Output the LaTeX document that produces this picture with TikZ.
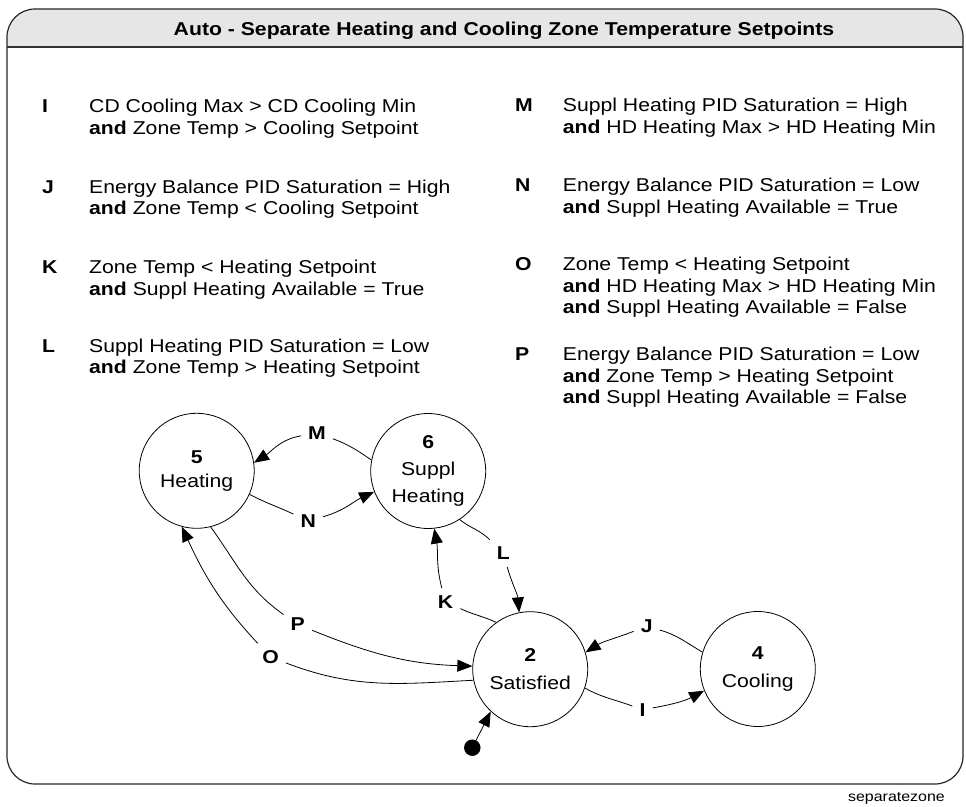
\documentclass[tikz,border=0pt]{standalone}
\usepackage{fontspec}
\setmainfont{Liberation Sans}[FakeStretch=1.14]
\usetikzlibrary{arrows.meta}

\definecolor{headgray}{HTML}{E6E6E6}
\definecolor{rulegray}{HTML}{333333}
\newcommand\bodysize{\fontsize{18.6}{21.5}\selectfont}

\tikzset{
  frameline/.style={draw=black!85, line width=1.2pt, rounded corners=28pt},
  state/.style={circle, draw, line width=0.8pt, minimum size=115pt, inner sep=0pt,
                align=center},
  tlabel/.style={font=\bodysize\bfseries, inner sep=7pt},
  letter/.style={anchor=base west, inner sep=0pt, font=\bodysize\bfseries},
  cond/.style={anchor=base west, inner sep=0pt, font=\bodysize},
  conn/.style={line width=0.8pt},
  arr/.style={-{Triangle[length=15pt,width=12pt]}}
}

\begin{document}
\begin{tikzpicture}[x=1pt,y=1pt]
\useasboundingbox (0,0) rectangle (966,-806);
\fill[white] (0,0) rectangle (966,-806);

% frame with grey title band
\begin{scope}
  \clip[rounded corners=28pt] (7,-9) rectangle (963,-784);
  \fill[headgray] (7,-9) rectangle (963,-47);
\end{scope}
\draw[frameline] (7,-9) rectangle (963,-784);
\draw[rulegray, line width=2.4pt] (7,-47) -- (963,-47);

\node[anchor=base, inner sep=0pt, font=\bodysize\bfseries] (title) at (504,-35.7)
  {Auto - Separate Heating and Cooling Zone Temperature Setpoints};

% transition conditions, left column
\node[letter] (kI) at (42,-112.5) {I};
\node[cond] (cI) at (89,-112.5) {\begin{tabular}[t]{@{}l@{}}CD Cooling Max > CD Cooling Min\\\textbf{and} Zone Temp > Cooling Setpoint\end{tabular}};
\node[letter] (kJ) at (42,-193) {J};
\node[cond] (cJ) at (89,-193) {\begin{tabular}[t]{@{}l@{}}Energy Balance PID Saturation = High\\\textbf{and} Zone Temp < Cooling Setpoint\end{tabular}};
\node[letter] (kK) at (42,-273.5) {K};
\node[cond] (cK) at (89,-273.5) {\begin{tabular}[t]{@{}l@{}}Zone Temp < Heating Setpoint\\\textbf{and} Suppl Heating Available = True\end{tabular}};
\node[letter] (kL) at (42,-352) {L};
\node[cond] (cL) at (89,-352) {\begin{tabular}[t]{@{}l@{}}Suppl Heating PID Saturation = Low\\\textbf{and} Zone Temp > Heating Setpoint\end{tabular}};

% transition conditions, right column
\node[letter] (kM) at (515,-111.7) {M};
\node[cond] (cM) at (562.7,-111.7) {\begin{tabular}[t]{@{}l@{}}Suppl Heating PID Saturation = High\\\textbf{and} HD Heating Max > HD Heating Min\end{tabular}};
\node[letter] (kN) at (515,-191.7) {N};
\node[cond] (cN) at (562.7,-191.7) {\begin{tabular}[t]{@{}l@{}}Energy Balance PID Saturation = Low\\\textbf{and} Suppl Heating Available = True\end{tabular}};
\node[letter] (kO) at (515,-270.7) {O};
\node[cond] (cO) at (562.7,-270.7) {\begin{tabular}[t]{@{}l@{}}Zone Temp < Heating Setpoint\\\textbf{and} HD Heating Max > HD Heating Min\\\textbf{and} Suppl Heating Available = False\end{tabular}};
\node[letter] (kP) at (515,-360.5) {P};
\node[cond] (cP) at (562.7,-360.5) {\begin{tabular}[t]{@{}l@{}}Energy Balance PID Saturation = Low\\\textbf{and} Zone Temp > Heating Setpoint\\\textbf{and} Suppl Heating Available = False\end{tabular}};

% states
\node[state, font=\fontsize{18.6}{24.5}\selectfont] (h5) at (196.7,-470.8) {\textbf{5}\\Heating};
\node[state, font=\fontsize{18.6}{27}\selectfont] (s6) at (428.2,-471) {\textbf{6}\\Suppl\\Heating};
\node[state, font=\fontsize{18.6}{28}\selectfont] (sat) at (530.2,-669.2) {\textbf{2}\\Satisfied};
\node[state, font=\fontsize{18.6}{28}\selectfont] (cool) at (757.8,-669) {\textbf{4}\\Cooling};

% transition labels
\node[tlabel] (M) at (317,-433) {M};
\node[tlabel] (N) at (308.3,-521) {N};
\node[tlabel] (L) at (503.3,-553.3) {L};
\node[tlabel] (K) at (445.5,-601.7) {K};
\node[tlabel] (J) at (646.7,-626.3) {J};
\node[tlabel] (I) at (642.5,-709.7) {I};
\node[tlabel] (P) at (297.8,-624.5) {P};
\node[tlabel] (O) at (270.5,-657) {O};

% transitions
\draw[conn] (s6.169) to[out=146,in=-20] (M);
\draw[conn,arr] (M) to[out=190,in=33] (h5.8);
\draw[conn] (h5.-24) to[out=-28,in=155] (N);
\draw[conn,arr] (N) to[out=16,in=205] (s6.201);
\draw[conn] (s6.-57) to[out=-39,in=135] (L);
\draw[conn,arr] (L) to[out=-74,in=95] (sat.101);
\draw[conn] (sat.126) to[out=155,in=-25] (K);
\draw[conn,arr] (K) to[out=105,in=-80] (s6.-84);
\draw[conn] (cool.163) to[out=150,in=-16] (J);
\draw[conn,arr] (J) to[out=201,in=32] (sat.17);
\draw[conn] (sat.-19) to[out=-29,in=160] (I);
\draw[conn,arr] (I) to[out=10,in=208] (cool.202);
\draw[conn] (h5.-76) to[out=-54,in=145] (P);
\draw[conn,arr] (P) to[out=-22,in=178] (sat.177);
\draw[conn] (sat.191) to[out=183,in=-21] (O);
\draw[conn,arr] (O) to[out=133,in=-65] (h5.255);

% initial state marker
\node[circle, fill, minimum size=16.5pt, inner sep=0pt] (init) at (472.3,-747.7) {};
\draw[conn,arr] (init) -- (sat.227);

\node[anchor=base east, inner sep=0pt, font=\fontsize{14}{16}\selectfont] (tag) at (945,-801) {separatezone};
\end{tikzpicture}
\end{document}
